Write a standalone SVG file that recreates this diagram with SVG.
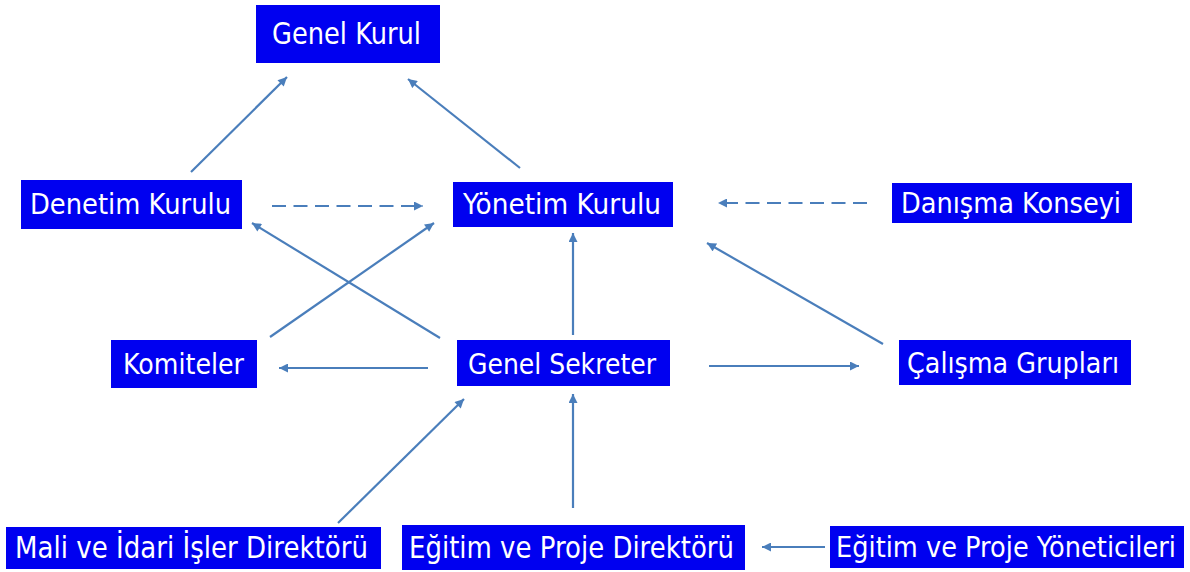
<svg xmlns="http://www.w3.org/2000/svg" width="1190" height="572" viewBox="0 0 1190 572">
<style>
.box{fill:#0000F0;}
.lbl{fill:#ffffff;font-family:"DejaVu Sans","Liberation Sans",sans-serif;font-size:29px;}
.big{font-size:30px;}
.cn{stroke:#4A7EBB;stroke-width:2.2;fill:none;marker-end:url(#ah);}
.dash{stroke-dasharray:14 7.5;}
</style>
<defs>
<marker id="ah" viewBox="0 0 10 10" refX="10" refY="5" markerWidth="10" markerHeight="9" orient="auto" markerUnits="userSpaceOnUse">
<path d="M0,0 L10,5 L0,10 z" fill="#4A7EBB"/>
</marker>
</defs>
<rect width="1190" height="572" fill="#ffffff"/>
<g id="connectors">
<line class="cn" x1="191" y1="172" x2="287" y2="77"/>
<line class="cn" x1="520" y1="168" x2="408" y2="79"/>
<line class="cn dash" x1="272" y1="206" x2="423" y2="206"/>
<line class="cn dash" x1="867" y1="203" x2="718" y2="203"/>
<line class="cn" x1="440" y1="338" x2="252" y2="223"/>
<line class="cn" x1="270" y1="337" x2="434" y2="223"/>
<line class="cn" x1="573" y1="335" x2="573" y2="233"/>
<line class="cn" x1="883" y1="344" x2="707" y2="243"/>
<line class="cn" x1="428" y1="368" x2="279" y2="368"/>
<line class="cn" x1="709" y1="366" x2="859" y2="366"/>
<line class="cn" x1="338" y1="523" x2="464" y2="399"/>
<line class="cn" x1="573" y1="508" x2="573" y2="394"/>
<line class="cn" x1="825" y1="547" x2="762" y2="547"/>
</g>
<g id="genel-kurul">
<rect class="box" x="256" y="5" width="184" height="58"/>
<text class="lbl big" x="272" y="44" textLength="149" lengthAdjust="spacingAndGlyphs">Genel Kurul</text>
</g>
<g id="denetim-kurulu">
<rect class="box" x="21" y="180" width="221" height="49"/>
<text class="lbl" x="30" y="214" textLength="201" lengthAdjust="spacingAndGlyphs">Denetim Kurulu</text>
</g>
<g id="yonetim-kurulu">
<rect class="box" x="453" y="182" width="220" height="45"/>
<text class="lbl" x="463" y="214" textLength="198" lengthAdjust="spacingAndGlyphs">Yönetim Kurulu</text>
</g>
<g id="danisma-konseyi">
<rect class="box" x="892" y="183" width="240" height="40"/>
<text class="lbl" x="901" y="213" textLength="220" lengthAdjust="spacingAndGlyphs">Danışma Konseyi</text>
</g>
<g id="komiteler">
<rect class="box" x="111" y="340" width="146" height="48"/>
<text class="lbl" x="123" y="374" textLength="121" lengthAdjust="spacingAndGlyphs">Komiteler</text>
</g>
<g id="genel-sekreter">
<rect class="box" x="457" y="340" width="213" height="46"/>
<text class="lbl" x="468" y="374" textLength="188" lengthAdjust="spacingAndGlyphs">Genel Sekreter</text>
</g>
<g id="calisma-gruplari">
<rect class="box" x="899" y="340" width="232" height="45"/>
<text class="lbl" x="907" y="373" textLength="212" lengthAdjust="spacingAndGlyphs">Çalışma Grupları</text>
</g>
<g id="mali-idari">
<rect class="box" x="6" y="527" width="375" height="42"/>
<text class="lbl big" x="15" y="558" textLength="353" lengthAdjust="spacingAndGlyphs">Mali ve İdari İşler Direktörü</text>
</g>
<g id="egitim-proje-direktoru">
<rect class="box" x="402" y="525" width="343" height="45"/>
<text class="lbl big" x="409" y="558" textLength="325" lengthAdjust="spacingAndGlyphs">Eğitim ve Proje Direktörü</text>
</g>
<g id="egitim-proje-yoneticileri">
<rect class="box" x="830" y="526" width="354" height="42"/>
<text class="lbl" transform="translate(836,557) scale(0.885,1)" x="0" y="0">Eğitim ve Proje Yöneticileri</text>
</g>
</svg>
